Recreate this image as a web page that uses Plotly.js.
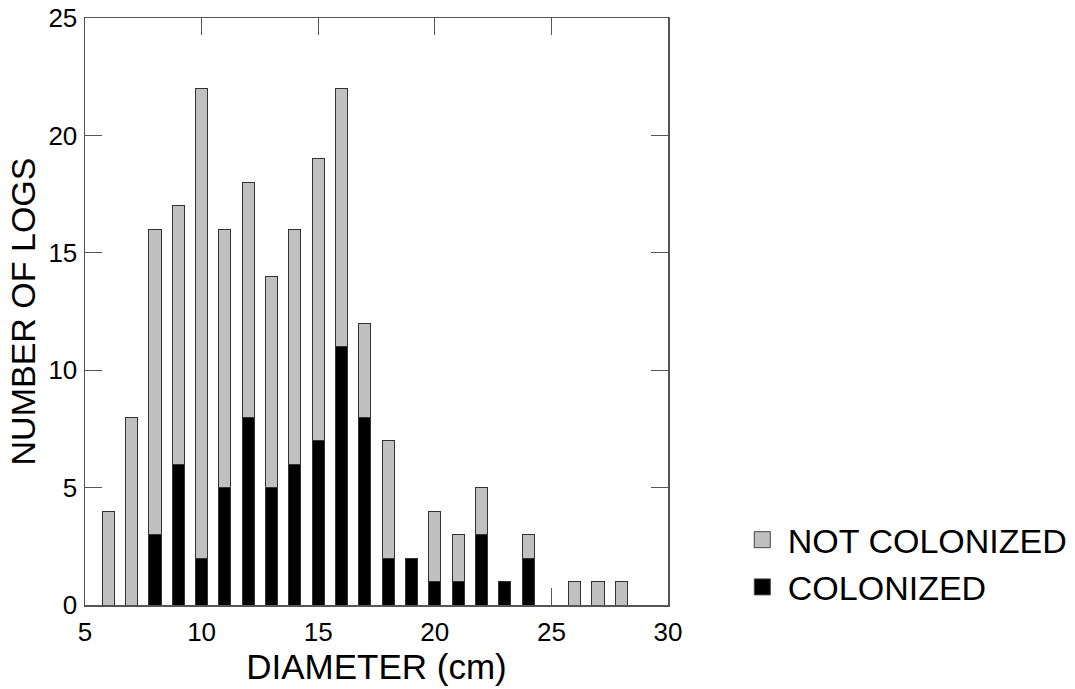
<!DOCTYPE html>
<html>
<head>
<meta charset="utf-8">
<script src="https://cdn.plot.ly/plotly-3.0.1.min.js"></script>
<style>html,body{margin:0;padding:0;background:#fff;}#chart{width:1075px;height:689px;}</style>
</head>
<body>
<div id="chart"></div>
<script>
const diameters = [6,7,8,9,10,11,12,13,14,15,16,17,18,19,20,21,22,23,24,26,27,28];
const totalLogs = [4,8,16,17,22,16,18,14,16,19,22,12,7,2,4,3,5,1,3,1,1,1];
const colonized = [0,0,3,6,2,5,8,5,6,7,11,8,2,2,1,1,3,1,2,0,0,0];
const notColonized = totalLogs.map((t,i) => t - colonized[i]);
const seriesNames = ['COLONIZED', 'NOT COLONIZED'];
const seriesColors = ['#000000', '#c0c0c0'];

const font = "Liberation Sans, Arial, sans-serif";
const edge = {color:'#333333', width:1};
const traces = [
  {type:'bar', x:diameters, y:colonized, name:seriesNames[0], width:0.52, showlegend:false,
   marker:{color:seriesColors[0], line:edge}},
  {type:'bar', x:diameters, y:notColonized, name:seriesNames[1], width:0.52, showlegend:false,
   marker:{color:seriesColors[1], line:edge}},
  // legend-only entries (no data points), for larger square swatches
  {type:'scatter', mode:'markers', x:[null], y:[null], name:seriesNames[0],
   marker:{symbol:'square', size:16, color:seriesColors[0], line:{color:'#444', width:1}}},
  {type:'scatter', mode:'markers', x:[null], y:[null], name:seriesNames[1],
   marker:{symbol:'square', size:16, color:seriesColors[1], line:{color:'#444', width:1}}}
];
const layout = {
  width:1075, height:689,
  margin:{l:85, r:407, t:18, b:84, autoexpand:false},
  paper_bgcolor:'#fff', plot_bgcolor:'#fff',
  barmode:'stack',
  font:{family:font, color:'#000'},
  xaxis:{range:[5,30], tickvals:[5,10,15,20,25,30], ticks:'inside', ticklen:17, tickcolor:'#555',
    mirror:'ticks', showline:true, linecolor:'#555', linewidth:1.5, showgrid:false, zeroline:false,
    layer:'below traces', ticklabelstandoff:3, automargin:false,
    tickfont:{size:26}, title:{text:'DIAMETER (cm)', font:{size:35}, standoff:4}},
  yaxis:{range:[0,25], tickvals:[0,5,10,15,20,25], ticks:'inside', ticklen:17, tickcolor:'#555',
    mirror:'ticks', showline:true, linecolor:'#555', linewidth:1.5, showgrid:false, zeroline:false,
    ticklabelstandoff:1, automargin:false,
    tickfont:{size:26}, title:{text:'NUMBER OF LOGS', font:{size:34}, standoff:2}},
  showlegend:true,
  legend:{x:1.118, y:0.16, xanchor:'left', yanchor:'top', traceorder:'reversed', itemsizing:'trace',
    font:{size:34, family:font}, itemwidth:41, tracegroupgap:0}
};
Plotly.newPlot('chart', traces, layout, {displayModeBar:false, staticPlot:true});
</script>
</body>
</html>
